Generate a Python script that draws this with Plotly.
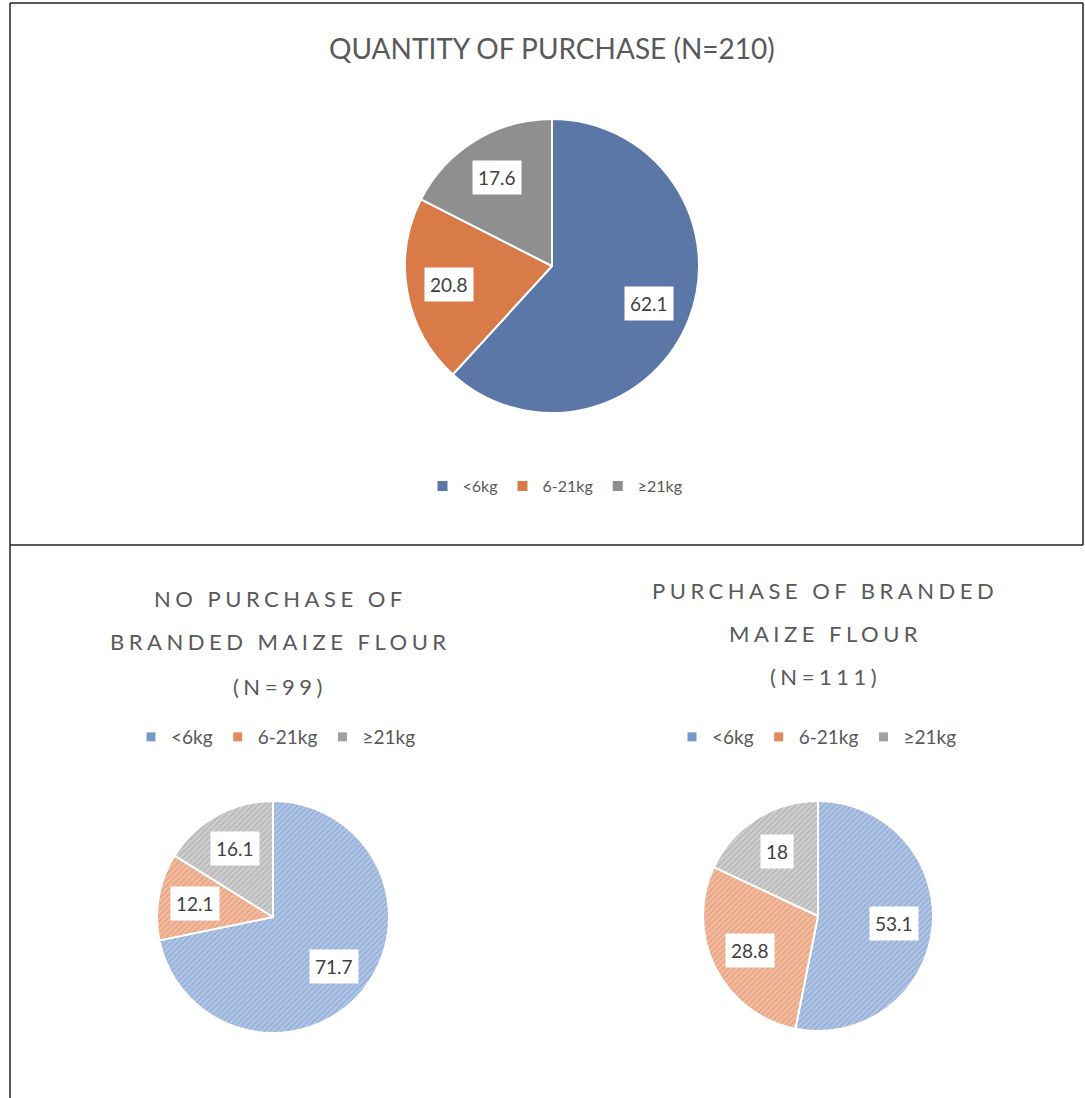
import math
import plotly.graph_objects as go

W, H = 1085, 1098

categories = ["<6kg", "6-21kg", "≥21kg"]
total_values = [62.1, 20.8, 17.6]
no_brand_values = [71.7, 12.1, 16.1]
brand_values = [53.1, 28.8, 18]

title_top = "QUANTITY OF PURCHASE (N=210)"
title_left_lines = ["NO PURCHASE OF", "BRANDED MAIZE FLOUR", "(N=99)"]
title_right_lines = ["PURCHASE OF BRANDED", "MAIZE FLOUR", "(N=111)"]

solid_colors = ["#5B77A8", "#D97B48", "#8F8F8F"]
light_colors = ["#B2C6E6", "#F2BDA3", "#CFCFCF"]
stripe_colors = ["#7898C8", "#E08A5E", "#A0A0A0"]

FONT = "Lato, 'Noto Sans', sans-serif"
TXT = "#595959"


def px(x):
    return x / W


def py(y):
    return 1 - y / H


pies = [
    dict(values=total_values, cx=552, cy=266, r=147, label_size=19, k=0.71),
    dict(values=no_brand_values, cx=273, cy=917, r=116, label_size=19, k=0.68),
    dict(values=brand_values, cx=818, cy=916, r=115, label_size=19, k=0.66),
]

fig = go.Figure()
annotations = []
for i, p in enumerate(pies):
    dom_x = [px(p["cx"] - p["r"]), px(p["cx"] + p["r"])]
    dom_y = [py(p["cy"] + p["r"]), py(p["cy"] - p["r"])]
    if i == 0:
        marker = dict(colors=solid_colors, line=dict(color="white", width=2))
    else:
        marker = dict(colors=light_colors, line=dict(color="white", width=2),
                      pattern=dict(shape="/", fgcolor=stripe_colors, size=4,
                                   solidity=0.45, fillmode="overlay"))
    fig.add_trace(go.Pie(
        labels=categories, values=p["values"], sort=False, direction="clockwise",
        rotation=0, marker=marker, textinfo="none", hoverinfo="label+value",
        domain=dict(x=dom_x, y=dom_y), legend="legend", showlegend=(i == 0),
    ))
    tot = sum(p["values"])
    cum = 0
    for v in p["values"]:
        mid = (cum + v / 2) / tot * 2 * math.pi
        cum += v
        lx = p["cx"] + p["k"] * p["r"] * math.sin(mid)
        ly = p["cy"] - p["k"] * p["r"] * math.cos(mid)
        annotations.append(dict(
            x=px(lx), y=py(ly), xref="paper", yref="paper", xanchor="center", yanchor="middle",
            text=f"{v:g}", showarrow=False, bgcolor="white", borderpad=5,
            font=dict(family=FONT, size=p["label_size"], color="#404040"),
        ))

# legend-only markers for the two lower charts
for lg in ["legend2", "legend3"]:
    for cat, col in zip(categories, stripe_colors):
        fig.add_trace(go.Scatter(
            x=[None], y=[None], mode="markers", name=cat, legend=lg,
            marker=dict(symbol="square", size=9, color=col),
            hoverinfo="skip", showlegend=True,
        ))

# titles
annotations.append(dict(x=px(552), y=py(48), xref="paper", yref="paper",
                        text=title_top, showarrow=False, xanchor="center", yanchor="middle",
                        font=dict(family=FONT, size=28, color=TXT)))
for lines, cx, ys in [(title_left_lines, 280, [598, 641, 686]),
                      (title_right_lines, 825, [590, 633, 676])]:
    for t, yy in zip(lines, ys):
        annotations.append(dict(
            x=px(cx), y=py(yy), xref="paper", yref="paper", xanchor="center", yanchor="middle",
            text=f"<span style='letter-spacing:4.5px'>{t}</span>", showarrow=False,
            font=dict(family=FONT, size=22, color=TXT)))

# panel borders
line = dict(color="#222222", width=1.5)
shapes = [
    dict(type="line", xref="paper", yref="paper", x0=px(10), x1=px(10), y0=0, y1=py(3), line=line),
    dict(type="line", xref="paper", yref="paper", x0=px(10), x1=px(1083), y0=py(3), y1=py(3), line=line),
    dict(type="line", xref="paper", yref="paper", x0=px(1083), x1=px(1083), y0=py(545), y1=py(3), line=line),
    dict(type="line", xref="paper", yref="paper", x0=px(10), x1=px(1083), y0=py(545), y1=py(545), line=line),
]


def legend_cfg(x, y, size):
    return dict(orientation="h", x=px(x), y=py(y), xanchor="center", yanchor="middle",
                font=dict(family=FONT, size=size, color=TXT), bgcolor="rgba(0,0,0,0)",
                itemwidth=30, itemclick=False, itemdoubleclick=False)


fig.update_layout(
    width=W, height=H, margin=dict(l=0, r=0, t=0, b=0),
    paper_bgcolor="white", plot_bgcolor="white",
    xaxis=dict(visible=False), yaxis=dict(visible=False),
    annotations=annotations, shapes=shapes,
    legend=legend_cfg(555, 486, 16),
    legend2=legend_cfg(276, 737, 19),
    legend3=legend_cfg(817, 737, 19),
)

fig.write_html("out.html", config={"displayModeBar": False},
               post_script="document.body.style.margin='0px';document.body.style.overflow='hidden';")
